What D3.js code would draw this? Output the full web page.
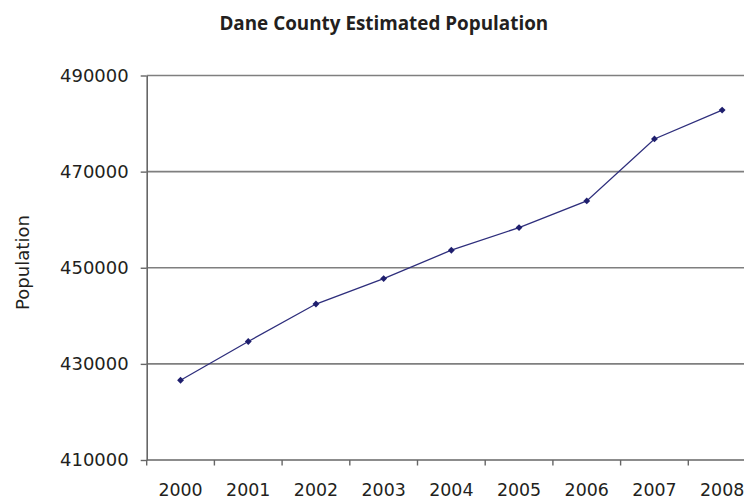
<!DOCTYPE html>
<html>
<head>
<meta charset="utf-8">
<script src="https://cdn.jsdelivr.net/npm/d3@7"></script>
<style>
  html, body { margin: 0; padding: 0; background: #fff; }
  svg { display: block; }
  text { font-family: "DejaVu Sans", Verdana, sans-serif; fill: #231f20; }
</style>
</head>
<body>
<svg id="chart" width="744" height="500"></svg>
<script>
const years = ["2000","2001","2002","2003","2004","2005","2006","2007","2008"];
const population = [426600, 434650, 442450, 447750, 453650, 458350, 463900, 476800, 482800];
const yTickValues = [410000, 430000, 450000, 470000, 490000];
const titleText = "Dane County Estimated Population";
const yAxisTitle = "Population";

(function () {
const svg = d3.select("#chart");
const plotLeft = 146.7, bandW = 67.7, plotTop = 75.5, plotBottom = 460;

const x = d3.scaleBand().domain(years).range([plotLeft, plotLeft + bandW * years.length]).padding(0);
const y = d3.scaleLinear().domain([410000, 490000]).range([plotBottom, plotTop]);

function fitSize(sel, target, base) {
  sel.style("font-size", base + "px");
  const len = sel.node().getComputedTextLength();
  const s = base * target / len;
  sel.style("font-size", s + "px");
  return s;
}

// gridlines
svg.append("g").selectAll("line").data(yTickValues.filter(v => v !== 410000)).join("line")
  .attr("x1", plotLeft).attr("x2", 744)
  .attr("y1", d => y(d)).attr("y2", d => y(d))
  .attr("stroke", "#7f7f7f").attr("stroke-width", 1.6);

// y axis
const yAxis = svg.append("g").attr("transform", `translate(${plotLeft},0)`)
  .call(d3.axisLeft(y).tickValues(yTickValues).tickFormat(d3.format("d")).tickSizeOuter(0).tickSizeInner(6).tickPadding(12));
yAxis.select(".domain").attr("stroke", "#666").attr("stroke-width", 1.6);
yAxis.selectAll(".tick line").attr("stroke", "#666").attr("stroke-width", 1.4);
yAxis.selectAll(".tick text").attr("fill", "#231f20").style("font-family", "'DejaVu Sans', sans-serif");
let ys = fitSize(yAxis.select(".tick text"), 68.7, 16);
yAxis.selectAll(".tick text").style("font-size", ys + "px");

// x axis baseline
svg.append("line").attr("x1", plotLeft).attr("x2", 744).attr("y1", plotBottom).attr("y2", plotBottom)
  .attr("stroke", "#666").attr("stroke-width", 1.6);
// x ticks at band boundaries
const boundaries = years.map(d => x(d));
svg.append("g").selectAll("line").data(boundaries).join("line")
  .attr("x1", d => d).attr("x2", d => d).attr("y1", plotBottom).attr("y2", plotBottom + 5.5)
  .attr("stroke", "#666").attr("stroke-width", 1.4);
// x labels
const xl = svg.append("g").selectAll("text").data(years).join("text")
  .attr("x", d => x(d) + x.bandwidth() / 2).attr("y", 495.5)
  .attr("text-anchor", "middle").text(d => d);
let xs = fitSize(d3.select(xl.nodes()[0]), 44.3, 16);
xl.style("font-size", xs + "px");

// line
svg.append("path").datum(years.map((d, i) => [d, population[i]]))
  .attr("fill", "none").attr("stroke", "#2e2e7c").attr("stroke-width", 1.3)
  .attr("d", d3.line().x(d => x(d[0]) + x.bandwidth() / 2).y(d => y(d[1])));

// markers
svg.append("g").selectAll("path").data(years.map((d, i) => [d, population[i]])).join("path")
  .attr("transform", d => `translate(${x(d[0]) + x.bandwidth() / 2},${y(d[1])})`)
  .attr("d", d3.symbol(d3.symbolDiamond2, 30)())
  .attr("fill", "#1f1f6e");

// title
const t = svg.append("text").attr("x", 383.8).attr("y", 30).attr("text-anchor", "middle")
  .style("font-weight", "bold").style("font-family", "'Open Sans', 'DejaVu Sans', sans-serif").text(titleText);
fitSize(t, 329, 14);

// y axis title
const yt = svg.append("text").attr("transform", "translate(29,262.5) rotate(-90)")
  .attr("text-anchor", "middle").text(yAxisTitle);
fitSize(yt, 95, 15);
})();
</script>
</body>
</html>
